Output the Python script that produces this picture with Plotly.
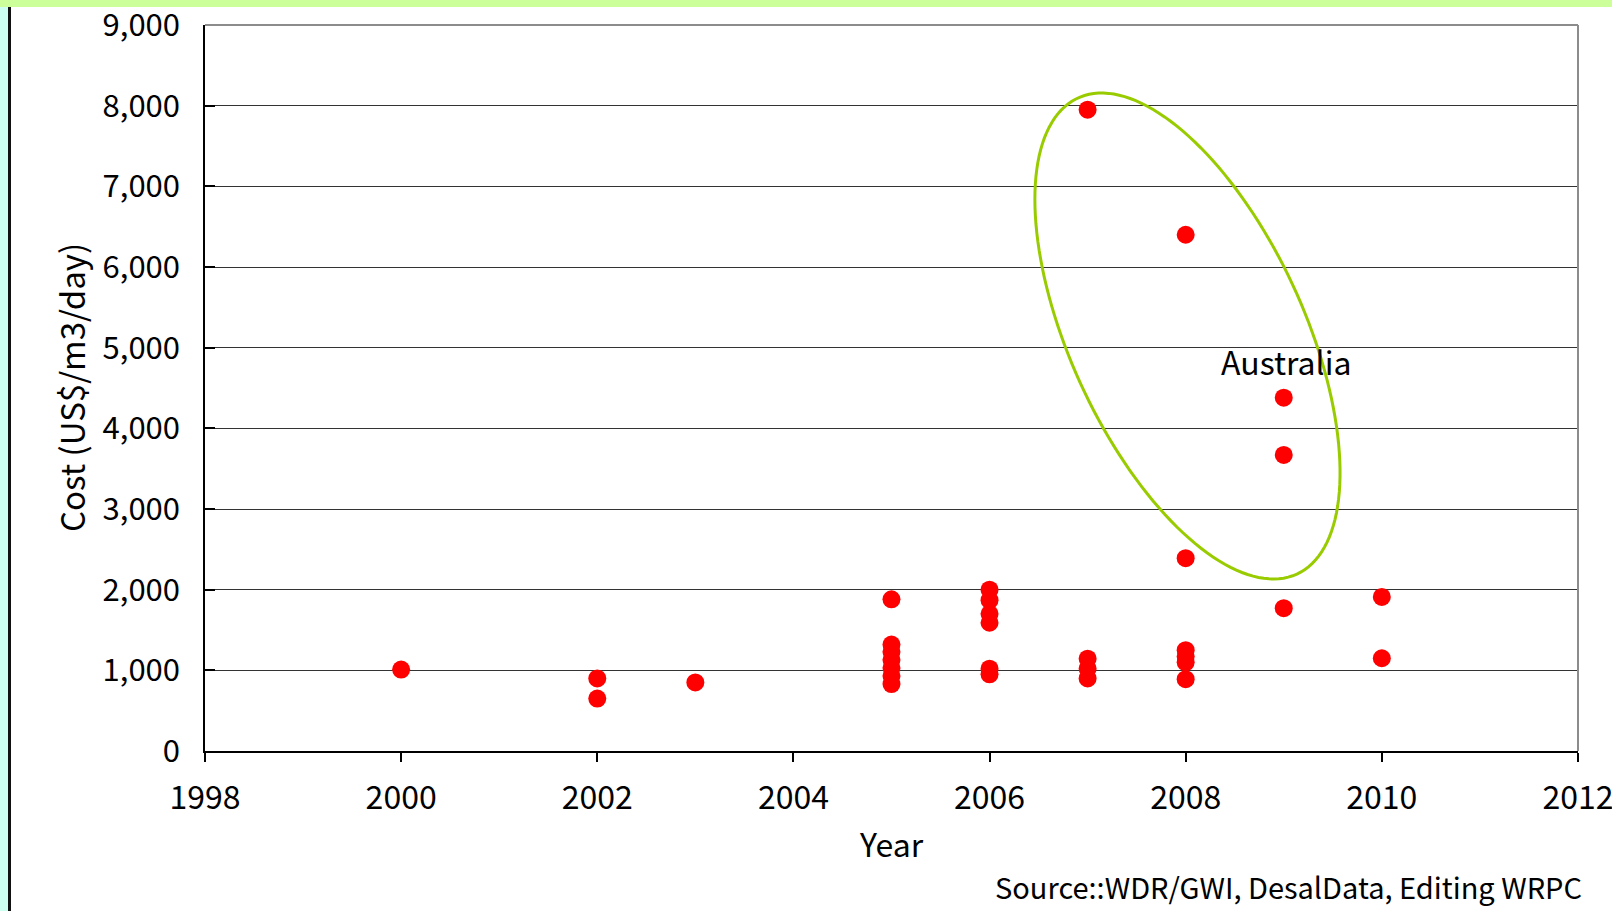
import numpy as np
import plotly.graph_objects as go

# ---- data ----
year = [2000,
        2002, 2002,
        2003,
        2005, 2005, 2005, 2005, 2005, 2005, 2005,
        2006, 2006, 2006, 2006, 2006, 2006,
        2007, 2007, 2007, 2007,
        2008, 2008, 2008, 2008, 2008, 2008,
        2009, 2009, 2009,
        2010, 2010]
cost = [1010,
        900, 650,
        850,
        1880, 1320, 1230, 1130, 1030, 930, 830,
        2000, 1870, 1700, 1590, 1020, 950,
        7950, 1145, 1020, 900,
        6400, 2390, 1250, 1170, 1100, 890,
        4380, 3670, 1770,
        1910, 1150]

x_ticks = list(range(1998, 2013, 2))
y_ticks = list(range(0, 9001, 1000))
y_ticktext = [f"{v:,}" for v in y_ticks]

# ---- layout geometry ----
W, H = 1612, 911
L, R, T, B = 205, 34, 25, 160
pw, ph = W - L - R, H - T - B
xr = (1998, 2012)
yr = (0, 9000)
FONT = "Noto Sans CJK JP, Liberation Sans, Arial, sans-serif"
FS = 32

def px_to_data(px, py):
    x = xr[0] + (px - L) / pw * (xr[1] - xr[0])
    y = yr[0] + (T + ph - py) / ph * (yr[1] - yr[0])
    return x, y

# ellipse (pixel-space shape) around the Australian plants
cxp, cyp = 1187.5, 336.0
a_px, b_px, theta = 262.0, 117.0, np.deg2rad(65.3)
t = np.linspace(0, 2 * np.pi, 160)
ex = cxp + a_px * np.cos(t) * np.cos(theta) - b_px * np.sin(t) * np.sin(theta)
ey = cyp + a_px * np.cos(t) * np.sin(theta) + b_px * np.sin(t) * np.cos(theta)
pts = [px_to_data(x, y) for x, y in zip(ex, ey)]
path = "M " + " L ".join(f"{x:.5f},{y:.2f}" for x, y in pts) + " Z"

fig = go.Figure()
fig.add_trace(go.Scatter(
    x=year, y=cost, mode="markers",
    marker=dict(color="#ff0000", size=18, line=dict(width=0)),
    showlegend=False, hoverinfo="x+y", cliponaxis=False))

shapes = [
    dict(type="path", path=path, xref="x", yref="y",
         line=dict(color="#99cc00", width=3), fillcolor="rgba(0,0,0,0)"),
    dict(type="line", xref="paper", yref="paper", x0=0, x1=1, y0=1, y1=1,
         line=dict(color="#8c8c8c", width=2)),
    dict(type="line", xref="paper", yref="paper", x0=1, x1=1, y0=0, y1=1,
         line=dict(color="#8c8c8c", width=2)),
    dict(type="rect", xref="paper", yref="paper", xsizemode="pixel", ysizemode="pixel",
         xanchor=0, yanchor=1, x0=-L, x1=W - L, y0=T, y1=T - 7,
         line=dict(width=0), fillcolor="#ccff99", layer="below"),
    dict(type="rect", xref="paper", yref="paper", xsizemode="pixel", ysizemode="pixel",
         xanchor=0, yanchor=1, x0=-L, x1=-L + 8, y0=T - 7, y1=T - H,
         line=dict(width=0), fillcolor="#ccfff0", layer="below"),
    dict(type="rect", xref="paper", yref="paper", xsizemode="pixel", ysizemode="pixel",
         xanchor=0, yanchor=1, x0=-L + 8, x1=-L + 11, y0=T - 7, y1=T - H,
         line=dict(width=0), fillcolor="#111111", layer="below"),
]

annotations = [
    dict(text="Australia", x=2009.02, y=4830, xref="x", yref="y",
         xanchor="center", yanchor="middle",
         showarrow=False, font=dict(family=FONT, size=FS, color="black")),
    dict(text="Year", x=0.5, y=(T + ph - 843) / ph, xref="paper", yref="paper",
         xanchor="center", yanchor="middle",
         showarrow=False, font=dict(family=FONT, size=FS, color="black")),
    dict(text="Cost (US$/m3/day)", x=(71 - L) / pw, y=0.5, xref="paper", yref="paper",
         xanchor="center", yanchor="middle",
         textangle=-90, showarrow=False, font=dict(family=FONT, size=33, color="black")),
    dict(text="Source::WDR/GWI, DesalData, Editing WRPC", x=(1584 - L) / pw,
         y=(T + ph - 886) / ph, xref="paper", yref="paper", xanchor="right",
         yanchor="middle", showarrow=False,
         font=dict(family=FONT, size=29, color="black")),
]

fig.update_layout(
    width=W, height=H, autosize=False,
    margin=dict(l=L, r=R, t=T, b=B, pad=0, autoexpand=False),
    paper_bgcolor="white", plot_bgcolor="white",
    font=dict(family=FONT, size=FS, color="black"),
    shapes=shapes, annotations=annotations,
    xaxis=dict(range=[xr[0], xr[1] + 0.0005], tickvals=x_ticks,
               ticktext=[str(v) for v in x_ticks], automargin=False,
               showgrid=False, zeroline=False, showline=True, linecolor="black",
               linewidth=1.5, ticks="outside", ticklen=9, tickcolor="black",
               tickwidth=1.5, ticklabelstandoff=9, ticklabeloverflow="allow",
               fixedrange=True),
    yaxis=dict(range=[yr[0], yr[1] + 0.3], tickvals=y_ticks, ticktext=y_ticktext,
               automargin=False,
               showgrid=True, gridcolor="#333333", gridwidth=1.2, zeroline=False,
               showline=True, linecolor="black", linewidth=1.5, ticks="inside",
               ticklen=10, tickcolor="black", tickwidth=1.5,
               tickfont=dict(family=FONT, size=31, color="black"),
               ticklabelstandoff=17, ticklabeloverflow="allow", fixedrange=True),
)

fig.write_html(
    "out.html",
    config={"responsive": False, "displayModeBar": False},
    post_script=("document.body.style.margin='0';"
                 "document.body.style.overflow='hidden';"
                 "document.documentElement.style.overflow='hidden';"),
)
